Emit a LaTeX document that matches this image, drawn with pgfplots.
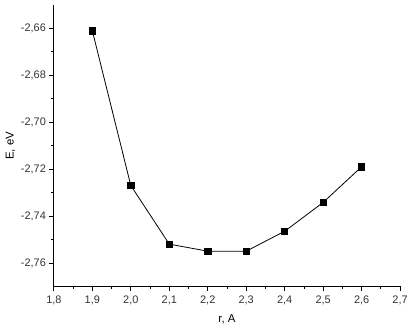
\documentclass[border=0pt]{standalone}
\usepackage{pgfplots}
\pgfplotsset{compat=1.18}
\usepackage{fontspec}
\setmainfont{Liberation Sans}
\begin{document}
\begin{tikzpicture}[x=1bp,y=1bp]
\begin{axis}[
  scale only axis,
  width=347bp, height=282bp,
  xmin=1.8, xmax=2.7,
  ymin=-2.77, ymax=-2.65,
  axis x line*=bottom, axis y line*=left,
  axis line style={black, line width=1pt},
  xtick={1.8,1.9,...,2.7},
  ytick={-2.76,-2.74,-2.72,-2.70,-2.68,-2.66},
  minor x tick num=1, minor y tick num=1,
  tick align=outside,
  major tick length=4.5bp, minor tick length=2.5bp,
  tick style={black, line width=0.8pt},
  /pgf/number format/assume math mode=true,
  xticklabel style={yshift=-2bp, /pgf/number format/.cd, fixed, fixed zerofill, precision=1, use comma},
  yticklabel style={/pgf/number format/.cd, fixed, fixed zerofill, precision=2, use comma},
  scaled y ticks=false,
  tick label style={font=\fontsize{11}{13}\selectfont, text=black!80},
  label style={font=\fontsize{11.5}{13}\selectfont},
  xlabel={r, A},
  ylabel={E, eV},
  xlabel style={yshift=-2bp},
  ylabel style={yshift=-1bp},
  clip=false,
]
\path (rel axis cs:-0.1556,-0.1596) rectangle (rel axis cs:1.0288,1.0177);
\addplot[black, line width=0.8pt, mark=square*, mark size=3.2bp, mark options={fill=black}]
coordinates {
(1.9,-2.661)
(2.0,-2.727)
(2.1,-2.752)
(2.2,-2.755)
(2.3,-2.755)
(2.4,-2.7465)
(2.5,-2.7342)
(2.6,-2.719)
};
\end{axis}
\end{tikzpicture}
\end{document}
